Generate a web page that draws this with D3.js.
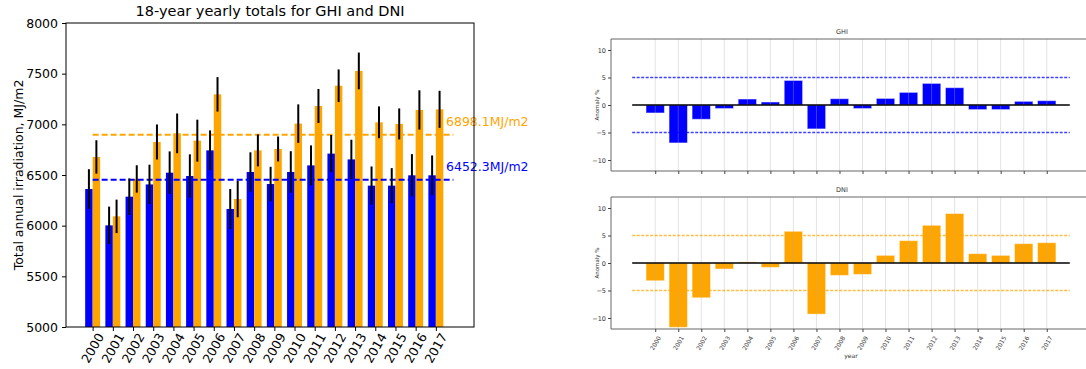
<!DOCTYPE html>
<html>
<head>
<meta charset="utf-8">
<script src="https://cdn.jsdelivr.net/npm/d3@7"></script>
<style>
  body { margin: 0; background: #fff; }
  svg { font-family: "DejaVu Sans", sans-serif; display: block; }
</style>
</head>
<body>
<svg id="chart" width="1086" height="369"></svg>
<script>
// Data
const years = ["2000","2001","2002","2003","2004","2005","2006","2007","2008",
               "2009","2010","2011","2012","2013","2014","2015","2016","2017"];

// yearly totals, MJ/m2
const ghiTotal = [6362,6003,6286,6407,6523,6490,6743,6165,6530,6411,6530,6595,6711,6654,6395,6395,6497,6497];
const dniTotal = [6678,6092,6461,6826,6911,6839,7296,6263,6743,6757,7007,7181,7381,7527,7020,7004,7142,7148];
const ghiErr = [195,185,180,195,210,214,197,197,194,170,205,197,184,194,189,173,209,196];
const dniErr = [165,165,135,173,196,207,170,180,158,123,190,168,161,181,157,153,194,183];

const ghiMean = 6452.3;
const dniMean = 6898.1;

// anomalies, %
const ghiAnom = [-1.45,-6.9,-2.6,-0.65,1.09,0.55,4.47,-4.35,1.15,-0.65,1.2,2.3,3.93,3.15,-0.84,-0.84,0.67,0.79];
const dniAnom = [-3.23,-11.7,-6.33,-1.1,0.2,-0.8,5.77,-9.3,-2.26,-2.08,1.39,4.07,6.86,9.0,1.7,1.39,3.52,3.7];

const leftTicks = [5000,5500,6000,6500,7000,7500,8000];
const anomTicks = [-10,-5,0,5,10];
const anomBand = 5;

const BLUE = "#0000ff", ORANGE = "#ffa500";
const svg = d3.select("#chart");

// ---------------- left panel ----------------
const L = { left: 66, right: 474, top: 23, bottom: 327 };
const xL = d3.scaleLinear().domain([-1.32, 18.89]).range([L.left, L.right]);
const yL = d3.scaleLinear().domain([5000, 8000]).range([L.bottom, L.top]);
const bw = 0.37;

const gL = svg.append("g");

// bars
gL.selectAll(".ghi").data(ghiTotal).join("rect")
  .attr("x", (d, i) => xL(i - bw)).attr("width", xL(bw) - xL(0))
  .attr("y", d => yL(d)).attr("height", d => yL(5000) - yL(d))
  .attr("fill", BLUE);
gL.selectAll(".dni").data(dniTotal).join("rect")
  .attr("x", (d, i) => xL(i)).attr("width", xL(bw) - xL(0))
  .attr("y", d => yL(d)).attr("height", d => yL(5000) - yL(d))
  .attr("fill", ORANGE);

// mean lines
const hlineEnd = 17.87;
[[ghiMean, BLUE], [dniMean, ORANGE]].forEach(([m, c]) => {
  gL.append("line")
    .attr("x1", xL(0)).attr("x2", xL(hlineEnd))
    .attr("y1", yL(m)).attr("y2", yL(m))
    .attr("stroke", c).attr("stroke-width", 2)
    .attr("stroke-dasharray", "6,3");
});

// error bars
const errbar = (vals, errs, off) => {
  gL.selectAll(null).data(vals).join("line")
    .attr("x1", (d, i) => xL(i + off)).attr("x2", (d, i) => xL(i + off))
    .attr("y1", (d, i) => yL(d - errs[i])).attr("y2", (d, i) => yL(d + errs[i]))
    .attr("stroke", "#000").attr("stroke-width", 2);
};
errbar(ghiTotal, ghiErr, -bw / 2);
errbar(dniTotal, dniErr, bw / 2);

// mean labels
gL.append("text").attr("x", 446).attr("y", yL(dniMean) - 9)
  .attr("fill", ORANGE).attr("font-size", 12.5)
  .text(dniMean.toFixed(1) + "MJ/m2");
gL.append("text").attr("x", 446).attr("y", yL(ghiMean) - 9)
  .attr("fill", BLUE).attr("font-size", 12.5)
  .text(ghiMean.toFixed(1) + "MJ/m2");

// frame
gL.append("rect").attr("x", L.left).attr("y", L.top)
  .attr("width", L.right - L.left).attr("height", L.bottom - L.top)
  .attr("fill", "none").attr("stroke", "#000").attr("stroke-width", 1);

// y axis
gL.append("g").attr("transform", `translate(${L.left},0)`)
  .call(d3.axisLeft(yL).tickValues(leftTicks).tickSize(4).tickPadding(4).tickFormat(d3.format("d")))
  .call(g => g.select(".domain").remove())
  .call(g => g.selectAll("text").attr("font-size", 12.5).attr("fill", "#000").attr("font-family", "DejaVu Sans"));

// x ticks + rotated labels
gL.append("g").attr("transform", `translate(0,${L.bottom})`)
  .call(d3.axisBottom(xL).tickValues(d3.range(years.length)).tickSize(4).tickFormat(""))
  .call(g => g.select(".domain").remove());
gL.selectAll(".xl").data(years).join("text")
  .attr("transform", (d, i) => `translate(${xL(i)},${L.bottom + 21}) rotate(-60)`)
  .attr("text-anchor", "middle").attr("dominant-baseline", "central")
  .attr("font-size", 12.5).text(d => d);

// title and y label
gL.append("text").attr("x", (L.left + L.right) / 2).attr("y", 16)
  .attr("text-anchor", "middle").attr("font-size", 14.5)
  .text("18-year yearly totals for GHI and DNI");
gL.append("text")
  .attr("transform", `translate(18,${(L.top + L.bottom) / 2}) rotate(-90)`)
  .attr("text-anchor", "middle").attr("dominant-baseline", "central")
  .attr("font-size", 12.5).text("Total annual irradiation, MJ/m2");

// ---------------- right panels ----------------
const R = { left: 611, right: 1114 };
const xR = d3.scaleLinear().domain([-1.92, 19.92]).range([R.left, R.right]);

function anomalyPanel(top, bottom, vals, color, title, showLabels) {
  const y = d3.scaleLinear().domain([-12, 12]).range([bottom, top]);
  const g = svg.append("g");

  // bars
  g.selectAll("rect.bar").data(vals).join("rect")
    .attr("x", (d, i) => xR(i - 0.4)).attr("width", xR(0.8) - xR(0))
    .attr("y", d => y(Math.max(0, d))).attr("height", d => Math.abs(y(d) - y(0)))
    .attr("fill", color).attr("stroke", "#fff").attr("stroke-opacity", 0.5).attr("stroke-width", 1);

  // grid on top, faint
  g.selectAll(".grid").data(years).join("line")
    .attr("x1", (d, i) => xR(i)).attr("x2", (d, i) => xR(i))
    .attr("y1", top).attr("y2", bottom)
    .attr("stroke", "#b0b0b0").attr("stroke-opacity", 0.35).attr("stroke-width", 1);

  // zero and +/- band lines
  g.append("line").attr("x1", xR(-1)).attr("x2", xR(18))
    .attr("y1", y(0)).attr("y2", y(0)).attr("stroke", "#000").attr("stroke-width", 1.5);
  [anomBand, -anomBand].forEach(v => {
    g.append("line").attr("x1", xR(-1)).attr("x2", xR(18))
      .attr("y1", y(v)).attr("y2", y(v))
      .attr("stroke", color).attr("stroke-opacity", 0.75).attr("stroke-width", 1.5)
      .attr("stroke-dasharray", "3,1.5");
  });

  // frame (left, top, bottom spines)
  g.append("path")
    .attr("d", `M${R.right},${top}H${R.left}V${bottom}H${R.right}`)
    .attr("fill", "none").attr("stroke", "#666").attr("stroke-width", 1);

  g.append("g").attr("transform", `translate(${R.left},0)`)
    .call(d3.axisLeft(y).tickValues(anomTicks).tickSize(3).tickPadding(2).tickFormat(d3.format("d")))
    .call(a => a.select(".domain").remove())
    .call(a => a.selectAll("line").attr("stroke", "#444"))
    .call(a => a.selectAll("text").attr("font-size", 6.5).attr("fill", "#333").attr("font-family", "DejaVu Sans"));

  g.append("g").attr("transform", `translate(0,${bottom})`)
    .call(d3.axisBottom(xR).tickValues(d3.range(years.length)).tickSize(3).tickFormat(""))
    .call(a => a.select(".domain").remove())
    .call(a => a.selectAll("line").attr("stroke", "#444"));

  if (showLabels) {
    g.selectAll(".xl").data(years).join("text")
      .attr("transform", (d, i) => `translate(${xR(i)},${bottom + 14}) rotate(-60)`)
      .attr("text-anchor", "middle").attr("dominant-baseline", "central")
      .attr("font-size", 6).attr("fill", "#333").text(d => d);
  }

  g.append("text").attr("x", 842).attr("y", top - 5)
    .attr("text-anchor", "middle").attr("font-size", 6.5).attr("fill", "#333").text(title);
  g.append("text")
    .attr("transform", `translate(597,${y(0)}) rotate(-90)`)
    .attr("text-anchor", "middle").attr("dominant-baseline", "central")
    .attr("font-size", 5.5).attr("fill", "#333").text("Anomaly %");
}

anomalyPanel(39, 171, ghiAnom, BLUE, "GHI", false);
anomalyPanel(197, 329, dniAnom, ORANGE, "DNI", true);

svg.append("text").attr("x", 851).attr("y", 358)
  .attr("text-anchor", "middle").attr("font-size", 6).attr("fill", "#333").text("year");
</script>
</body>
</html>
